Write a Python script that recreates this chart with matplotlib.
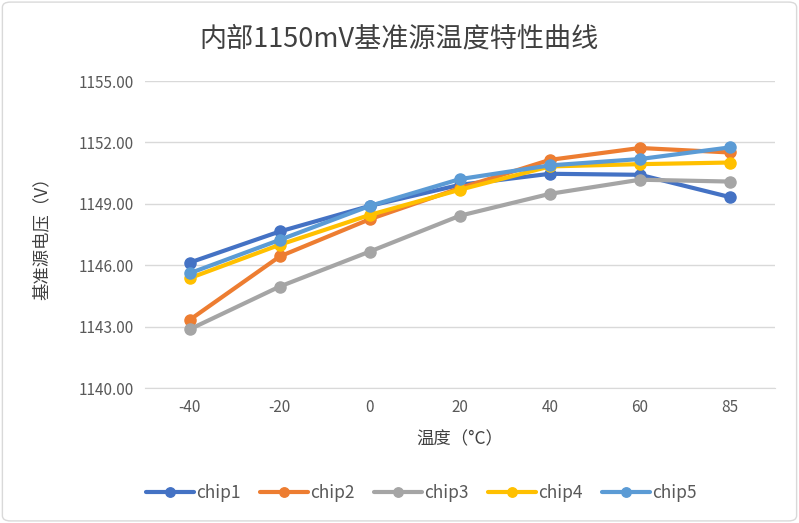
import matplotlib
matplotlib.use('Agg')
import matplotlib.pyplot as plt
from matplotlib.patches import FancyBboxPatch

plt.rcParams['font.family'] = ['Noto Sans CJK SC', 'DejaVu Sans']

# 数据
temps = ['-40', '-20', '0', '20', '40', '60', '85']
chip1 = [1146.13, 1147.65, 1148.90, 1149.93, 1150.47, 1150.42, 1149.33]
chip2 = [1143.33, 1146.43, 1148.25, 1149.77, 1151.15, 1151.73, 1151.51]
chip3 = [1142.87, 1144.96, 1146.67, 1148.42, 1149.49, 1150.18, 1150.09]
chip4 = [1145.37, 1147.00, 1148.46, 1149.69, 1150.83, 1150.94, 1151.02]
chip5 = [1145.61, 1147.24, 1148.90, 1150.21, 1150.88, 1151.19, 1151.76]
series = [('chip1', chip1, '#4472C4'), ('chip2', chip2, '#ED7D31'),
          ('chip3', chip3, '#A5A5A5'), ('chip4', chip4, '#FFC000'),
          ('chip5', chip5, '#5B9BD5')]
yticks = [1140, 1143, 1146, 1149, 1152, 1155]

fig = plt.figure(figsize=(7.99, 5.23), dpi=100)
ax = fig.add_axes([0.181, 0.258, 0.789, 0.587])

# 外框
fig.patches.append(FancyBboxPatch((0.003, 0.004), 0.994, 0.992, boxstyle='round,pad=0,rounding_size=0.01',
                                  transform=fig.transFigure, fill=False, edgecolor='#D9D9D9', lw=1))

x = list(range(len(temps)))
for name, vals, c in series:
    ax.plot(x, vals, color=c, lw=3, marker='o', markersize=8, label=name,
            solid_capstyle='round')

ax.set_xlim(-0.5, len(temps) - 0.5)
ax.set_ylim(1140, 1155)
ax.set_yticks(yticks)
ax.set_yticklabels([f'{v:.2f}' for v in yticks])
ax.set_xticks(x)
ax.set_xticklabels(temps)
ax.grid(axis='y', color='#D9D9D9', lw=1)
ax.set_axisbelow(True)
for s in ['top', 'right', 'left']:
    ax.spines[s].set_visible(False)
ax.spines['bottom'].set_color('#D9D9D9')
ax.tick_params(length=0, colors='#595959', labelsize=11, pad=8)

fig.text(0.5, 0.925, '内部1150mV基准源温度特性曲线', fontsize=19.5, color='#404040',
         ha='center', va='center')
ax.set_xlabel('温度（°C）', fontsize=12.5, color='#404040', labelpad=10)
ax.set_ylabel('基准源电压（V）', fontsize=12.5, color='#404040', labelpad=20)

ax.legend(loc='center', bbox_to_anchor=(0.527, 0.058), bbox_transform=fig.transFigure,
          ncol=5, frameon=False, fontsize=12.5, labelcolor='#595959', handlelength=2.8,
          columnspacing=1.1, handletextpad=0.1, markerscale=0.85)

plt.savefig('out.png', dpi=100)
